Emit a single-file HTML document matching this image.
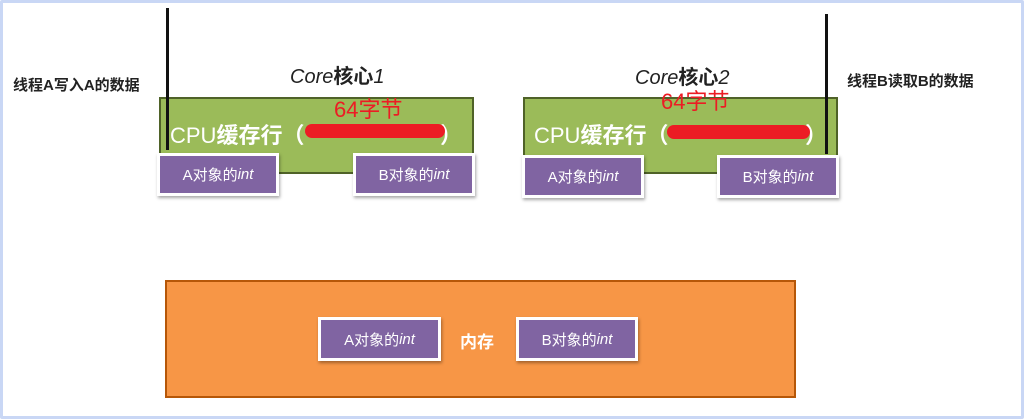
<!DOCTYPE html>
<html><head><meta charset="utf-8"><style>
*{margin:0;padding:0;box-sizing:border-box}
body{width:1024px;height:419px;background:#fff;position:relative;overflow:hidden;font-family:"Liberation Sans","Noto Sans CJK SC",sans-serif}
.frame{position:absolute;left:0;top:0;width:1024px;height:419px;border:3px solid #c9d7f5;border-radius:2px}
.a{position:absolute}
.green{background:#9bbb59;border:2px solid #4f6228}
.purple{background:#8064a2;border:3px solid #fff;box-shadow:1px 2px 3px rgba(0,0,0,.35);color:#fff;font-size:15px;display:flex;align-items:center;justify-content:center}
.vl{position:absolute;width:3px;background:#111}
.t{position:absolute;white-space:nowrap}
.red{position:absolute;height:14px;background:#ec1c24;border-radius:7px}
</style></head><body>
<div class="frame"></div>

<div class="t" style="left:13px;top:74px;font-size:15px;font-weight:bold;color:#222">线程A写入A的数据</div>
<div class="t" style="left:847px;top:70px;font-size:15px;font-weight:bold;color:#222">线程B读取B的数据</div>

<div class="t" style="left:290px;top:60px;font-size:20px;color:#222;font-style:italic">Core<b style="font-style:normal">核心</b>1</div>
<div class="t" style="left:635px;top:61px;font-size:20px;color:#222;font-style:italic">Core<b style="font-style:normal">核心</b>2</div>

<div class="a green" style="left:159px;top:97px;width:315px;height:77px"></div>
<div class="a green" style="left:523px;top:97px;width:315px;height:77px"></div>

<div class="t" style="left:170px;top:118px;font-size:22px;color:#fff">CPU<b>缓存行（</b></div>
<div class="t" style="left:440px;top:118px;font-size:22px;color:#fff;font-weight:bold">）</div>
<div class="red" style="left:305px;top:124px;width:140px"></div>
<div class="t" style="left:334px;top:92px;font-size:22px;color:#ec1c24">64字节</div>

<div class="t" style="left:534px;top:118px;font-size:22px;color:#fff">CPU<b>缓存行（</b></div>
<div class="t" style="left:805px;top:118px;font-size:22px;color:#fff;font-weight:bold">）</div>
<div class="red" style="left:667px;top:125px;width:143px"></div>
<div class="t" style="left:661px;top:84px;font-size:22px;color:#ec1c24">64字节</div>

<div class="vl" style="left:166px;top:8px;height:142px"></div>
<div class="vl" style="left:825px;top:14px;height:140px"></div>

<div class="a purple" style="left:157px;top:153px;width:122px;height:43px">A对象的<i>int</i></div>
<div class="a purple" style="left:353px;top:153px;width:122px;height:43px">B对象的<i>int</i></div>
<div class="a purple" style="left:522px;top:155px;width:122px;height:43px">A对象的<i>int</i></div>
<div class="a purple" style="left:717px;top:155px;width:122px;height:43px">B对象的<i>int</i></div>

<div class="a" style="left:165px;top:280px;width:631px;height:118px;background:#f79646;border:2px solid #b65708"></div>
<div class="a purple" style="left:318px;top:317px;width:123px;height:44px">A对象的<i>int</i></div>
<div class="t" style="left:460px;top:328px;font-size:17px;font-weight:bold;color:#fff">内存</div>
<div class="a purple" style="left:516px;top:317px;width:122px;height:44px">B对象的<i>int</i></div>
</body></html>
